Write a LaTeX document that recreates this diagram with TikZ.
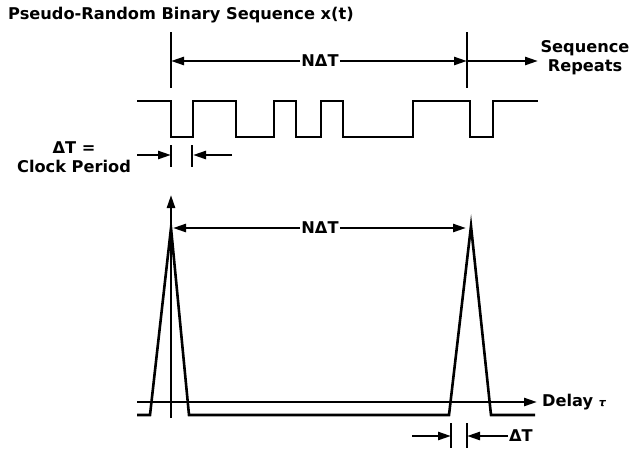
\documentclass[tikz,border=0pt]{standalone}
\usepackage{fontspec}
\setmainfont{DejaVu Sans}
\usetikzlibrary{arrows.meta,positioning}

\begin{document}
\begin{tikzpicture}[x=1pt,y=-1pt,
  wave/.style={line width=2.6pt,line join=miter},
  dimline/.style={line width=2.4pt,-{Triangle[length=13pt,width=8pt]}},
  tick/.style={line width=2.4pt},
  lbl/.style={font=\bfseries\fontsize{16.2}{19}\selectfont,inner sep=1pt,align=center}]
  \useasboundingbox (0,0) rectangle (629,450);
  % title
  \node[lbl,anchor=west] (title) at (7,15) {Pseudo-Random Binary Sequence x(t)};
  % sequence period
  \draw[tick] (171,32) -- (171,88);
  \draw[tick] (467,32) -- (467,88);
  \coordinate (pstart) at (171,61);
  \coordinate (pend) at (467,61);
  \coordinate (rend) at (538,61);
  \node[lbl] (nper) at (320,61) {NΔT};
  \draw[dimline] (nper) -- (pstart);
  \draw[dimline] (nper) -- (pend);
  \draw[dimline] (pend) -- (rend);
  \node[lbl] (repeats) at (585,58) {Sequence\\Repeats};
  % binary sequence
  \draw[wave] (137,101) -- (171,101) -- (171,137) -- (193,137) -- (193,101)
    -- (236,101) -- (236,137) -- (274,137) -- (274,101) -- (296,101)
    -- (296,137) -- (321,137) -- (321,101) -- (343,101) -- (343,137)
    -- (413,137) -- (413,101) -- (470,101) -- (470,137) -- (493,137)
    -- (493,101) -- (538,101);
  % clock period
  \node[lbl] (clock) at (74,157) {ΔT =\\Clock Period};
  \draw[tick] (171,145) -- (171,167);
  \draw[tick] (192,145) -- (192,167);
  \coordinate (cl) at (137,155);
  \coordinate (cr) at (232,155);
  \draw[dimline] (cl) -- (171,155);
  \draw[dimline] (cr) -- (193,155);
  % autocorrelation
  \coordinate (origin) at (171,418);
  \coordinate (vtop) at (171,195);
  \coordinate (hstart) at (137,402);
  \coordinate (hend) at (537,402);
  \draw[dimline] (origin) -- (vtop);
  \draw[dimline] (hstart) -- (hend);
  \node[lbl,anchor=west] (delay) at (541,402) {Delay {\fontsize{11}{13}\selectfont\itshape τ}};
  \draw[wave] (137,415) -- (150,415) -- (171,228) -- (189,415) -- (449,415)
    -- (471,226) -- (491,415) -- (535,415);
  \coordinate (peakl) at (173,228);
  \coordinate (peakr) at (466,228);
  \node[lbl] (nlag) at (320,228) {NΔT};
  \draw[dimline] (nlag) -- (peakl);
  \draw[dimline] (nlag) -- (peakr);
  % pulse width
  \draw[tick] (451,423) -- (451,448);
  \draw[tick] (467,423) -- (467,448);
  \coordinate (wl) at (412,436);
  \node[lbl,anchor=west] (width) at (508,436) {ΔT};
  \draw[dimline] (wl) -- (451,436);
  \draw[dimline] (width) -- (467,436);
\end{tikzpicture}
\end{document}
